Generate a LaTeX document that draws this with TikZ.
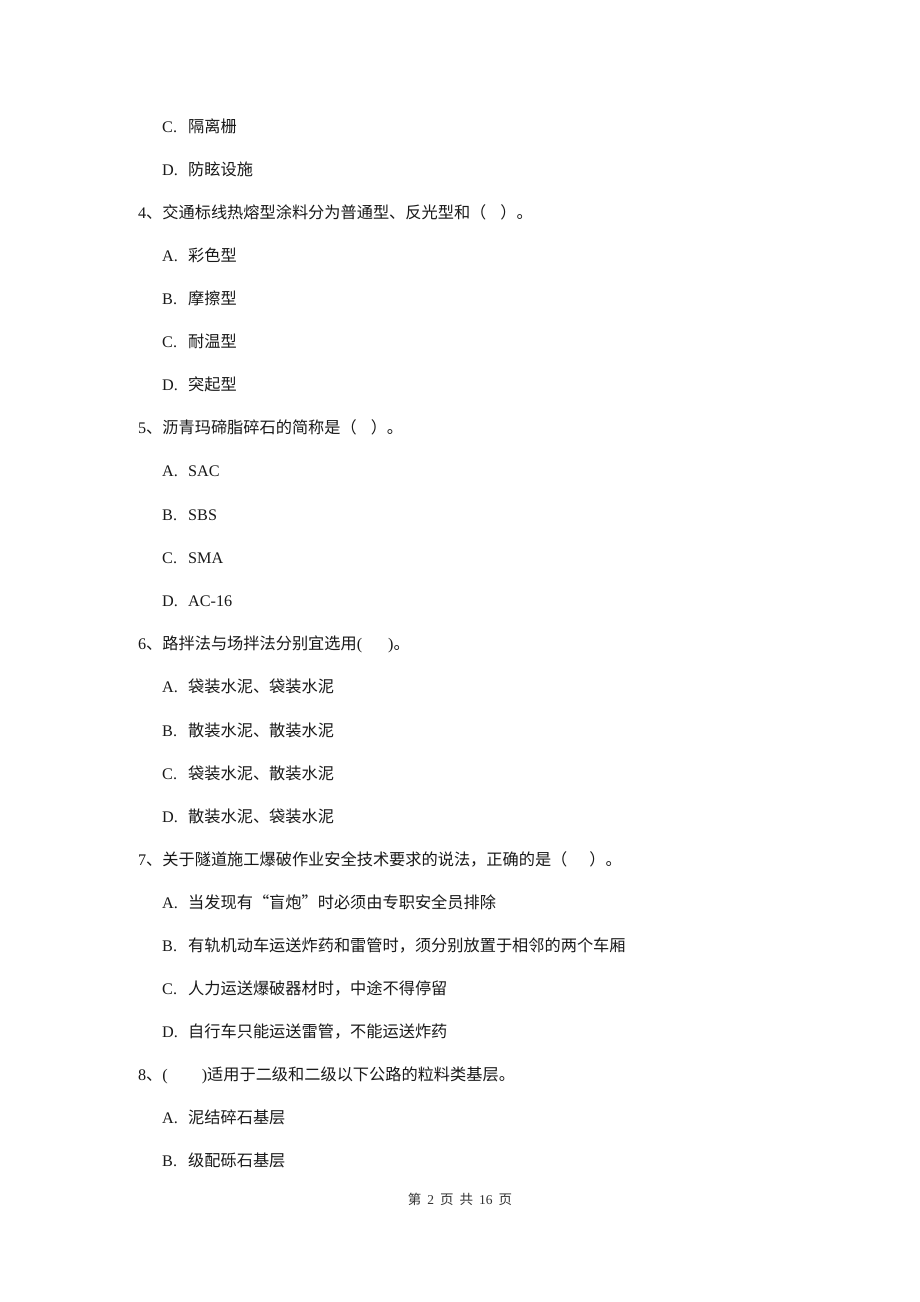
\documentclass[tikz,border=0pt]{standalone}
\usepackage{fontspec}
\setmainfont{Noto Sans CJK SC}
\newfontfamily\lat{Liberation Serif}
\tikzset{
  txt/.style={anchor=base west, inner sep=0pt, font=\fontsize{16.2}{16}\selectfont, text=black!90},
  foot/.style={anchor=base, inner sep=0pt, font=\fontsize{13.5}{13}\selectfont, text=black!80}
}
\newcommand{\qline}[4]{% name, y, number, text
  \node[txt] (#1n) at (138,#2+6) {\lat #3};
  \node[txt] (#1) at (146,#2+6) {#4};
}
\newcommand{\oline}[4]{% name, y, letter, text
  \node[txt] (#1l) at (162,#2+6) {\lat #3.};
  \node[txt] (#1) at (188,#2+6) {#4};
}
\begin{document}
\begin{tikzpicture}[x=1pt,y=-1pt]
\useasboundingbox (0,0) rectangle (920,1302);
\fill[white] (0,0) rectangle (920,1302);
\oline{o3c}{126}{C}{隔离栅}
\oline{o3d}{169}{D}{防眩设施}
\qline{q4}{212}{4}{、交通标线热熔型涂料分为普通型、反光型和（\hspace{14pt}）。}
\oline{o4a}{255}{A}{彩色型}
\oline{o4b}{298}{B}{摩擦型}
\oline{o4c}{341}{C}{耐温型}
\oline{o4d}{384}{D}{突起型}
\qline{q5}{427}{5}{、沥青玛碲脂碎石的简称是（\hspace{14pt}）。}
\oline{o5a}{470}{A}{\lat SAC}
\oline{o5b}{514}{B}{\lat SBS}
\oline{o5c}{557}{C}{\lat SMA}
\oline{o5d}{600}{D}{\lat AC-16}
\qline{q6}{643}{6}{、路拌法与场拌法分别宜选用{\lat (}\hspace{26pt}{\lat )}。}
\oline{o6a}{686}{A}{袋装水泥、袋装水泥}
\oline{o6b}{730}{B}{散装水泥、散装水泥}
\oline{o6c}{773}{C}{袋装水泥、散装水泥}
\oline{o6d}{816}{D}{散装水泥、袋装水泥}
\qline{q7}{859}{7}{、关于隧道施工爆破作业安全技术要求的说法，正确的是（\hspace{22pt}）。}
\oline{o7a}{902}{A}{当发现有“盲炮”时必须由专职安全员排除}
\oline{o7b}{945}{B}{有轨机动车运送炸药和雷管时，须分别放置于相邻的两个车厢}
\oline{o7c}{988}{C}{人力运送爆破器材时，中途不得停留}
\oline{o7d}{1031}{D}{自行车只能运送雷管，不能运送炸药}
\qline{q8}{1074}{8}{、{\lat (}\hspace{34pt}{\lat )}适用于二级和二级以下公路的粒料类基层。}
\oline{o8a}{1117}{A}{泥结碎石基层}
\oline{o8b}{1160}{B}{级配砾石基层}
\node[foot] (footer) at (460,1204) {第\hspace{6pt}{\lat 2}\hspace{6pt}页\hspace{6pt}共\hspace{6pt}{\lat 16}\hspace{6pt}页};
\end{tikzpicture}
\end{document}
